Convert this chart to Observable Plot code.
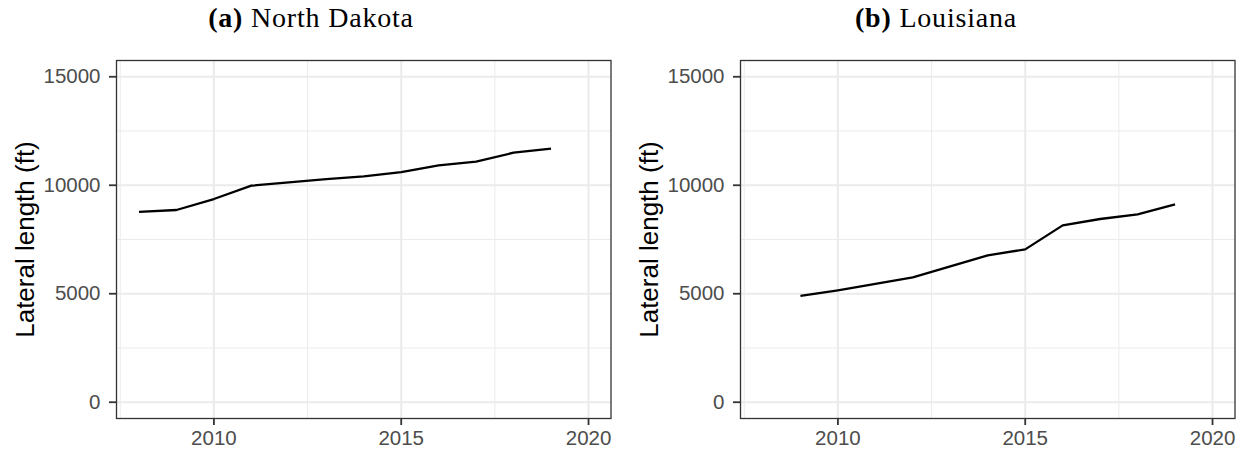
<!DOCTYPE html>
<html>
<head>
<meta charset="utf-8">
<script src="https://cdn.jsdelivr.net/npm/d3@7"></script>
<script src="https://cdn.jsdelivr.net/npm/@observablehq/plot@0.6"></script>
<style>
  html, body { margin: 0; padding: 0; background: #fff; }
  #wrap { position: relative; width: 1245px; height: 452px; overflow: hidden; }
  .panel { position: absolute; top: 0; }
  .title { position: absolute; top: 4px; height: 28px; line-height: 28px; text-align: center;
           font-family: "Liberation Serif", "Times New Roman", serif; font-size: 28px; letter-spacing: 0.8px;
           color: #000; white-space: nowrap; }
  .title b { font-weight: bold; }
</style>
</head>
<body>
<div id="wrap"></div>
<script>
// ---- data ----
const ndYears = [2008, 2009, 2010, 2011, 2012, 2013, 2014, 2015, 2016, 2017, 2018, 2019];
const ndLength = [8770, 8860, 9365, 9980, 10130, 10285, 10410, 10610, 10915, 11085, 11500, 11685];
const laYears = [2009, 2010, 2011, 2012, 2013, 2014, 2015, 2016, 2017, 2018, 2019];
const laLength = [4900, 5160, 5450, 5755, 6265, 6770, 7045, 8150, 8445, 8660, 9120];
const yMajor = [0, 5000, 10000, 15000];
const yMinor = [2500, 7500, 12500];
const xMajor = [2010, 2015, 2020];
const xMinor = [2007.5, 2012.5, 2017.5];
const panelLetters = ["(a)", "(b)"];
const panelNames = ["North Dakota", "Louisiana"];
const yLabel = "Lateral length (ft)";

const wrap = document.getElementById("wrap");

function makeChart(years, values, width, marginLeft, marginRight) {
  const data = years.map((yr, i) => ({year: yr, len: values[i]}));
  return Plot.plot({
    width,
    height: 452,
    marginTop: 60,
    marginBottom: 34,
    marginLeft,
    marginRight,
    style: {fontFamily: "'Liberation Sans', Arial, sans-serif", background: "#fff"},
    x: {domain: [2007.4, 2020.6], axis: null},
    y: {domain: [-750, 15750], axis: null},
    marks: [
      Plot.ruleY(yMinor, {stroke: "#ebebeb", strokeWidth: 1}),
      Plot.ruleX(xMinor, {stroke: "#ebebeb", strokeWidth: 1}),
      Plot.ruleY(yMajor, {stroke: "#ebebeb", strokeWidth: 2}),
      Plot.ruleX(xMajor, {stroke: "#ebebeb", strokeWidth: 2}),
      Plot.line(data, {x: "year", y: "len", stroke: "#000", strokeWidth: 2.3, strokeLinecap: "butt"}),
      Plot.frame({stroke: "#333", strokeWidth: 1.3}),
      Plot.axisY(yMajor, {tickSize: 7, tickPadding: 9, tickFormat: "d", fontSize: 20.5,
        stroke: "#333", strokeWidth: 1.8, fill: "#4d4d4d", label: null}),
      Plot.axisX(xMajor, {tickSize: 7, tickPadding: 5, tickFormat: "d", fontSize: 20.5,
        stroke: "#333", strokeWidth: 1.8, fill: "#4d4d4d", label: null}),
      Plot.text([yLabel], {text: d => d, frameAnchor: "left", rotate: -90, dx: -91,
        textAnchor: "middle", lineAnchor: "middle", fontSize: 26, fill: "#000"})
    ]
  });
}

const specs = [
  {years: ndYears, values: ndLength, left: 0, width: 623, ml: 116, mr: 12.5, titleCenter: 311},
  {years: laYears, values: laLength, left: 623, width: 622, ml: 117, mr: 10.5, titleCenter: 936}
];

specs.forEach((s, i) => {
  const div = document.createElement("div");
  div.className = "panel";
  div.style.left = s.left + "px";
  div.appendChild(makeChart(s.years, s.values, s.width, s.ml, s.mr));
  wrap.appendChild(div);

  const t = document.createElement("div");
  t.className = "title";
  t.style.left = (s.titleCenter - 200) + "px";
  t.style.width = "400px";
  const b = document.createElement("b");
  b.textContent = panelLetters[i];
  t.appendChild(b);
  t.appendChild(document.createTextNode(" " + panelNames[i]));
  wrap.appendChild(t);
});
</script>
</body>
</html>
